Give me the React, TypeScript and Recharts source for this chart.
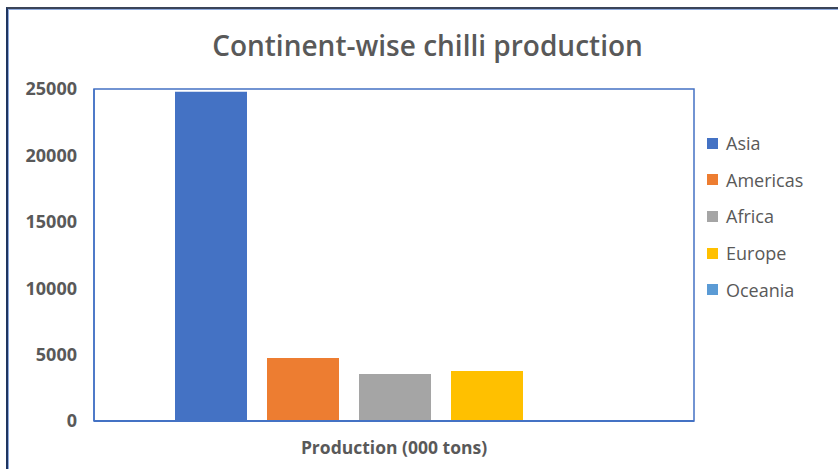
import React from "react";
import { BarChart, Bar, XAxis, YAxis, ReferenceArea } from "recharts";

const categories = ["Production (000 tons)"];
const continents = ["Asia", "Americas", "Africa", "Europe", "Oceania"];
const production = [24800, 4750, 3540, 3770, 80];
const colors = ["#4472C4", "#ED7D31", "#A5A5A5", "#FFC000", "#5B9BD5"];
const yTicks = [0, 5000, 10000, 15000, 20000, 25000];

const data = categories.map((name) => {
  const row: Record<string, string | number> = { name };
  continents.forEach((c, i) => {
    row[c] = production[i];
  });
  return row;
});

if (typeof document !== "undefined") {
  document.body.style.margin = "0";
}

const FONT = "'Open Sans', 'Liberation Sans', sans-serif";
const BORDER = "#4472C4";

export default function App() {
  return (
    <div style={{ position: "relative", width: 838, height: 469, background: "#fff", overflow: "hidden" }}>
      {/* frame of the chart area */}
      <div
        style={{
          position: "absolute",
          left: 6,
          top: 7,
          width: 840,
          height: 470,
          borderLeft: "2px solid #1F3560",
          borderTop: "2px solid #3A4458",
          boxShadow: "inset 1px 1px 0 #8FAADC",
        }}
      />
      <div
        style={{
          position: "absolute",
          top: 26,
          left: 0,
          width: 855,
          textAlign: "center",
          fontFamily: FONT,
          fontWeight: 600,
          fontSize: 28,
          color: "#595959",
        }}
      >
        Continent-wise chilli production
      </div>
      <div style={{ position: "absolute", left: 0, top: 0 }}>
        <BarChart
          width={838}
          height={469}
          data={data}
          margin={{ top: 89, right: 144, bottom: 8, left: 0 }}
          barCategoryGap="13.5%"
          barGap={20}
        >
          <XAxis
            dataKey="name"
            height={40}
            tickLine={false}
            tickMargin={15}
            axisLine={{ stroke: BORDER, strokeWidth: 2 }}
            tick={{ fill: "#595959", fontSize: 17.5, fontWeight: 700, fontFamily: FONT }}
          />
          <YAxis
            width={94}
            domain={[0, 25000]}
            ticks={yTicks}
            interval={0}
            tickLine={false}
            tickMargin={11}
            axisLine={{ stroke: BORDER, strokeWidth: 1.5 }}
            tick={{ fill: "#595959", fontSize: 18, fontWeight: 700, fontFamily: FONT }}
          />
          <ReferenceArea
            x1={categories[0]}
            x2={categories[categories.length - 1]}
            y1={0}
            y2={25000}
            fill="none"
            stroke={BORDER}
            strokeWidth={1.5}
          />
          {continents.map((c, i) => (
            <Bar key={c} dataKey={c} fill={colors[i]} isAnimationActive={false} />
          ))}
        </BarChart>
      </div>
      <div
        style={{
          position: "absolute",
          left: 707,
          top: 125,
          fontFamily: FONT,
          fontSize: 18,
          color: "#595959",
        }}
      >
        {continents.map((c, i) => (
          <div key={c} style={{ display: "flex", alignItems: "center", height: 36.6 }}>
            <span style={{ width: 11, height: 11, background: colors[i], marginRight: 8, display: "inline-block" }} />
            <span>{c}</span>
          </div>
        ))}
      </div>
    </div>
  );
}
